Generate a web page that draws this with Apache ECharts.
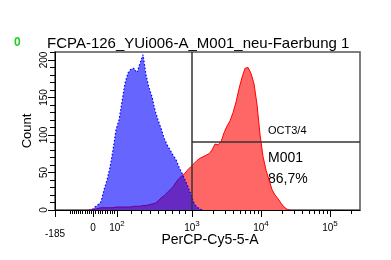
<!DOCTYPE html>
<html>
<head>
<meta charset="utf-8">
<script src="https://cdn.jsdelivr.net/npm/echarts@6/dist/echarts.min.js"></script>
<style>html,body{margin:0;padding:0;background:#fff;}#c{width:391px;height:260px;}</style>
</head>
<body>
<div id="c"></div>
<script>
// ---- data (display scale: 3 = 10^3, 4 = 10^4, 5 = 10^5, logicle below) ----
const binStart = 1.507;
const binStep = 0.0435;
const controlCounts = [0,0,4,7,11,27,40,57,80,107,120,145,169,183,188,189,183,196,207,180,163,151,133,120,109,96,87,80,73,67,57,49,40,31,20,9,4,1,0];
const sampleCounts = [0,1,1,2,3,3,3,3,3,4,4,4,4,4,4,5,5,5,6,6,7,8,9,12,16,19,23,27,31,37,42,46,49,54,58,62,66,69,71,73,75,80,88,87,91,103,112,119,130,144,162,177,189,190,182,168,140,100,71,53,40,27,20,15,9,4,1,0];
const tickRaw = [-185, 0, 100, 1000, 10000, 100000];
const tickLabels = ['-185', '0', '10|2', '10|3', '10|4', '10|5'];
const minorRaw = [-110,-100,-90,-80,-70,-60,-50,-40,-30,-20,-10,10,20,30,40,50,60,70,80,90,200,300,400,500,600,700,800,900,2000,3000,4000,5000,6000,7000,8000,9000,20000,30000,40000,50000,60000,70000,80000,90000,200000];
const yTicks = [0, 50, 100, 150, 200];
const gateX = 1000;      // marker boundary
const gateY = 90.7;      // horizontal gate line level (count)
const xMin = 1.014, xMax = 5.435, yMax = 210.7;
const titleText = 'FCPA-126_YUi006-A_M001_neu-Faerbung 1';
const gateName = 'OCT3/4', markerName = 'M001', markerPct = '86,7%';

// display transform (logicle-like)
function posOf(v){
  if (v < 0) return 1.565 + v/185*(1.565-1.014);
  if (v <= 100) return 1.565 + v/100*0.348;
  if (v < 1000) { const f = 0.6*(v-100)/900 + 0.4*Math.log10(v/100); return 1.913 + f*1.087; }
  return Math.log10(v);
}
const tickPos = tickRaw.map(posOf);
tickPos[0] = xMin;
const minorPos = minorRaw.map(posOf).filter(p => p >= xMin && p <= xMax);

const controlData = controlCounts.map((c,i)=>[binStart+i*binStep, c]);
const sampleData = sampleCounts.map((c,i)=>[binStart+i*binStep, c]);

const chart = echarts.init(document.getElementById('c'), null, {renderer:'canvas'});
const FONT = 'Liberation Sans, Arial, sans-serif';
chart.setOption({
  animation: false,
  grid: {left:55, top:52, right:31, bottom:50, show:true, borderColor:'#555', borderWidth:1.5, backgroundColor:'transparent'},
  xAxis: [{
    type:'value', min:xMin, max:xMax, position:'bottom',
    axisLine:{show:true, onZero:false, lineStyle:{color:'#000', width:1}},
    axisTick:{show:true, customValues: tickPos, length:7, lineStyle:{color:'#000'}},
    splitLine:{show:false},
    axisLabel:{
      customValues: tickPos, margin:9, color:'#000', fontFamily:FONT, fontSize:10, hideOverlap:false,
      formatter: function(v){
        let idx = 0, best = 1e9;
        tickPos.forEach((p,i)=>{ const d=Math.abs(p-v); if(d<best){best=d; idx=i;} });
        const t = tickLabels[idx];
        if (t.indexOf('|')>=0){ const s=t.split('|'); return '{b|'+s[0]+'}{s|'+s[1]+'}'; }
        if (idx===0) return '{low|'+t+'}';
        return '{b|'+t+'}';
      },
      rich:{
        b:{fontSize:10, fontFamily:FONT, color:'#000', padding:[4,0,0,0]},
        s:{fontSize:8, fontFamily:FONT, color:'#000', padding:[0,0,4,0]},
        low:{fontSize:10, fontFamily:FONT, color:'#000', padding:[10,0,0,0]}
      }
    }
  },{
    type:'value', min:xMin, max:xMax, position:'bottom',
    axisLine:{show:false, onZero:false},
    axisTick:{show:true, customValues: minorPos, length:4, lineStyle:{color:'#000'}},
    axisLabel:{show:false}, splitLine:{show:false}
  }],
  yAxis: {
    type:'value', min:0, max:yMax, interval:50,
    axisLine:{show:true, lineStyle:{color:'#000', width:1}},
    axisTick:{show:true, length:7, customValues: yTicks, lineStyle:{color:'#000'}},
    minorTick:{show:true, splitNumber:5, length:5, lineStyle:{color:'#000'}},
    splitLine:{show:false},
    axisLabel:{customValues: yTicks, rotate:90, margin:6, color:'#000', fontSize:10, fontFamily:'Liberation Sans Narrow, Arial Narrow, Liberation Sans, sans-serif'}
  },
  series: [{
    type:'line', name:'sample', data: sampleData, symbol:'none', z:2,
    lineStyle:{color:'#ff0000', width:1},
    areaStyle:{color:'#ff6666', opacity:1},
    markLine:{
      silent:true, symbol:['none','none'], label:{show:false},
      lineStyle:{color:'#333', width:1.5, type:'solid'},
      data:[
        [{coord:[posOf(gateX),0]},{coord:[posOf(gateX),yMax]}],
        [{coord:[posOf(gateX),gateY]},{coord:[xMax,gateY]}]
      ]
    }
  },{
    type:'line', name:'control', data: controlData, symbol:'none', z:3,
    lineStyle:{color:'#0000ff', width:1.2, type:[1.5,2]},
    areaStyle:{color:'rgba(0,0,255,0.6)', opacity:1}
  }],
  graphic: [
    {type:'text', left:14, top:37, style:{text:'0', fill:'#22cc22', font:'bold 12px '+FONT}},
    {type:'text', left:47, top:36, style:{text:titleText, fill:'#000', font:'15px '+FONT}},
    {type:'text', x:27, y:131, rotation:Math.PI/2, style:{text:'Count', fill:'#000', font:'13px '+FONT, align:'center', verticalAlign:'middle'}},
    {type:'text', x:210, y:240, style:{text:'PerCP-Cy5-5-A', fill:'#000', font:'14px '+FONT, align:'center', verticalAlign:'middle'}},
    {type:'text', x:268, y:131, style:{text:gateName, fill:'#000', font:'11px '+FONT, verticalAlign:'middle'}},
    {type:'text', x:268, y:158, style:{text:markerName, fill:'#000', font:'14px '+FONT, verticalAlign:'middle'}},
    {type:'text', x:268, y:179, style:{text:markerPct, fill:'#000', font:'14px '+FONT, verticalAlign:'middle'}}
  ]
});
</script>
</body>
</html>
